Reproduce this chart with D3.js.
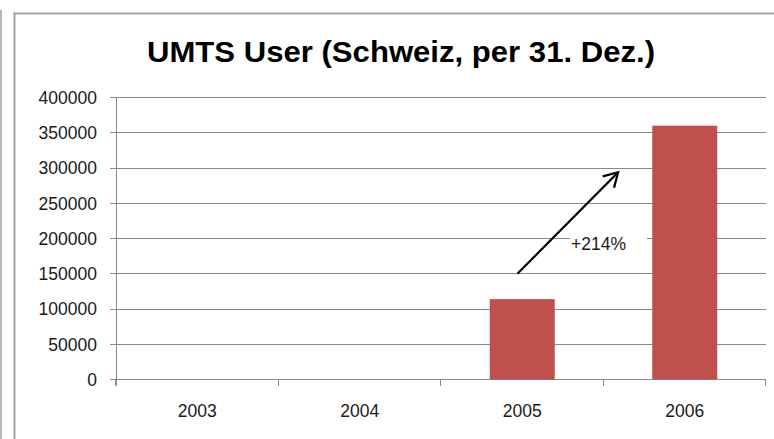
<!DOCTYPE html>
<html>
<head>
<meta charset="utf-8">
<script src="https://cdn.jsdelivr.net/npm/d3@7"></script>
<style>
  html, body { margin: 0; padding: 0; background: #fff; }
  svg { display: block; }
  text { font-family: "Liberation Sans", Arial, sans-serif; }
</style>
</head>
<body>
<svg id="chart" width="774" height="439"></svg>
<script>
// ---- data ----
const title = "UMTS User (Schweiz, per 31. Dez.)";
const categories = ["2003", "2004", "2005", "2006"];
const values = [0, 0, 114000, 360000];
const yTicks = [0, 50000, 100000, 150000, 200000, 250000, 300000, 350000, 400000];
const yDomain = [0, 400000];
const growthLabel = "+214%";
// arrow annotation in data units (category + offset in steps, value)
const arrowFrom = { cat: "2005", offset: -0.03, value: 150000 };
const arrowTo = { cat: "2006", offset: -0.41, value: 294000 };
const labelAt = { cat: "2005", offset: 0.30, value: 183000 };

// ---- layout ----
const svg = d3.select("#chart");
const plotL = 116, plotR = 766, plotT = 97.5, plotB = 379.5;

const xCat = d3.scaleBand().domain(categories).range([plotL, plotR]).padding(0);
const xBar = d3.scaleBand().domain(categories).range([plotL, plotR])
  .paddingInner(0.6).paddingOuter(0.3);
const y = d3.scaleLinear().domain(yDomain).range([plotB, plotT]);
const ry = v => Math.round(y(v) - 0.5) + 0.5;
const cx = (c, off) => xCat(c) + xCat.bandwidth() / 2 + off * xCat.step();

// outer frame lines
const frame = "#a6a6a6";
svg.append("line").attr("x1", 1).attr("x2", 1).attr("y1", 10).attr("y2", 439)
  .attr("stroke", frame).attr("stroke-width", 1.6);
svg.append("line").attr("x1", 14.5).attr("x2", 14.5).attr("y1", 12.5).attr("y2", 439)
  .attr("stroke", frame).attr("stroke-width", 2);
svg.append("line").attr("x1", 13.5).attr("x2", 774).attr("y1", 13.5).attr("y2", 13.5)
  .attr("stroke", frame).attr("stroke-width", 2);

// title
svg.append("text")
  .attr("x", 147).attr("y", 61.5)
  .attr("font-size", 30).attr("font-weight", "bold").attr("fill", "#000")
  .attr("textLength", 508).attr("lengthAdjust", "spacingAndGlyphs")
  .text(title);

const gridColor = "#8a8a8a";

// gridlines + y ticks
svg.append("g").selectAll("line").data(yTicks).join("line")
  .attr("x1", plotL - 6).attr("x2", plotR)
  .attr("y1", d => ry(d)).attr("y2", d => ry(d))
  .attr("stroke", gridColor).attr("stroke-width", 1);

// y labels
svg.append("g").selectAll("text").data(yTicks).join("text")
  .attr("x", 97).attr("y", d => y(d))
  .attr("dy", "0.36em")
  .attr("text-anchor", "end")
  .attr("font-size", 17.5).attr("fill", "#1a1a1a")
  .text(d => d);

// y axis line
svg.append("line").attr("x1", plotL + 0.5).attr("x2", plotL + 0.5)
  .attr("y1", ry(yDomain[1])).attr("y2", plotB + 6)
  .attr("stroke", gridColor).attr("stroke-width", 1);

// x axis ticks at category boundaries
const bounds = categories.map(c => xCat(c)).concat([plotR]);
svg.append("g").selectAll("line").data(bounds).join("line")
  .attr("x1", d => Math.round(d) - 0.5).attr("x2", d => Math.round(d) - 0.5)
  .attr("y1", ry(0)).attr("y2", plotB + 6.5)
  .attr("stroke", gridColor).attr("stroke-width", 1);

// bars
svg.append("g").selectAll("rect").data(categories.map((c, i) => ({ c, v: values[i] })))
  .join("rect")
  .attr("x", d => xBar(d.c))
  .attr("width", xBar.bandwidth())
  .attr("y", d => y(d.v))
  .attr("height", d => y(0) - y(d.v))
  .attr("fill", "#c0504d");

// x labels
svg.append("g").selectAll("text").data(categories).join("text")
  .attr("x", d => xCat(d) + xCat.bandwidth() / 2)
  .attr("y", 417)
  .attr("text-anchor", "middle")
  .attr("font-size", 17.5).attr("fill", "#1a1a1a")
  .text(d => d);

// annotation label with white box
const lx = cx(labelAt.cat, labelAt.offset), ly = y(labelAt.value);
svg.append("rect").attr("x", lx - 1).attr("y", ly - 17).attr("width", 77).attr("height", 22)
  .attr("fill", "#fff");
svg.append("text").attr("x", lx).attr("y", ly)
  .attr("font-size", 17.5).attr("fill", "#1a1a1a")
  .text(growthLabel);

// arrow
const ax1 = cx(arrowFrom.cat, arrowFrom.offset), ay1 = y(arrowFrom.value);
const ax2 = cx(arrowTo.cat, arrowTo.offset), ay2 = y(arrowTo.value);
svg.append("line").attr("x1", ax1).attr("y1", ay1).attr("x2", ax2).attr("y2", ay2)
  .attr("stroke", "#000").attr("stroke-width", 2.2);
const ang = Math.atan2(ay2 - ay1, ax2 - ax1);
const hl = 16, ha = Math.PI / 6;
const p = d3.path();
p.moveTo(ax2 - hl * Math.cos(ang - ha), ay2 - hl * Math.sin(ang - ha));
p.lineTo(ax2, ay2);
p.lineTo(ax2 - hl * Math.cos(ang + ha), ay2 - hl * Math.sin(ang + ha));
svg.append("path").attr("d", p.toString())
  .attr("fill", "none").attr("stroke", "#000").attr("stroke-width", 2.2)
  .attr("stroke-linejoin", "miter");
</script>
</body>
</html>
